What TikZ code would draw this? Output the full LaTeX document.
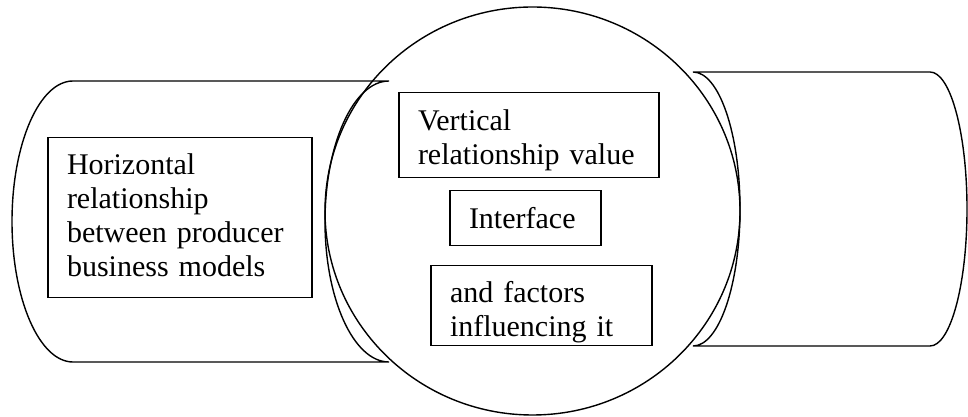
\documentclass[tikz,border=0pt]{standalone}
\usepackage{fontspec}
\setmainfont{Liberation Serif}
\usetikzlibrary{positioning}

\begin{document}
\begin{tikzpicture}[x=1pt, y=1pt,
forme/.style={draw=black, line width=1.4pt},
bloc/.style={rectangle, draw=black, line width=1.4pt, inner xsep=19pt, inner ysep=0pt, align=left, text height=37.5pt, font=\fontsize{30}{34}\selectfont},
]
    \useasboundingbox (0,0) rectangle (968,417);
    % Longueurs et espacement
    \def\hauteurG{140.5}
    \def\hauteurD{137}

    % Définition des formes
    \draw [forme] (389,336) -- (73,336) arc[start angle=90, end angle=270, x radius=61, y radius=\hauteurG] -- (389,55) arc[start angle=270, end angle=90, x radius=64, y radius=\hauteurG] -- cycle;
    \draw [forme] (693,345) -- (930,345) arc[start angle=90, end angle=-90, x radius=37, y radius=\hauteurD] -- (693,71) arc[start angle=-90, end angle=90, x radius=47, y radius=\hauteurD] -- cycle;
    \draw [forme] (532.5,206) ellipse [x radius=207.5, y radius=204];

    % Définition des blocs
    \node [bloc, text width=226pt, text depth=123pt] (horizontal) at (180,199.5) {Horizontal\\relationship\\between producer\\business models};
    \node [bloc, text width=222pt, text depth=47pt] (vertical) at (529,282) {Vertical\\relationship value};
    \node [bloc, text width=113pt, text depth=17pt, below of=vertical, node distance=83pt, xshift=-3.5pt] (interface) {Interface};
    \node [bloc, text width=183pt, text depth=43pt, below of=interface, node distance=87.5pt, xshift=16pt] (facteurs) {and factors\\influencing it};
\end{tikzpicture}
\end{document}
